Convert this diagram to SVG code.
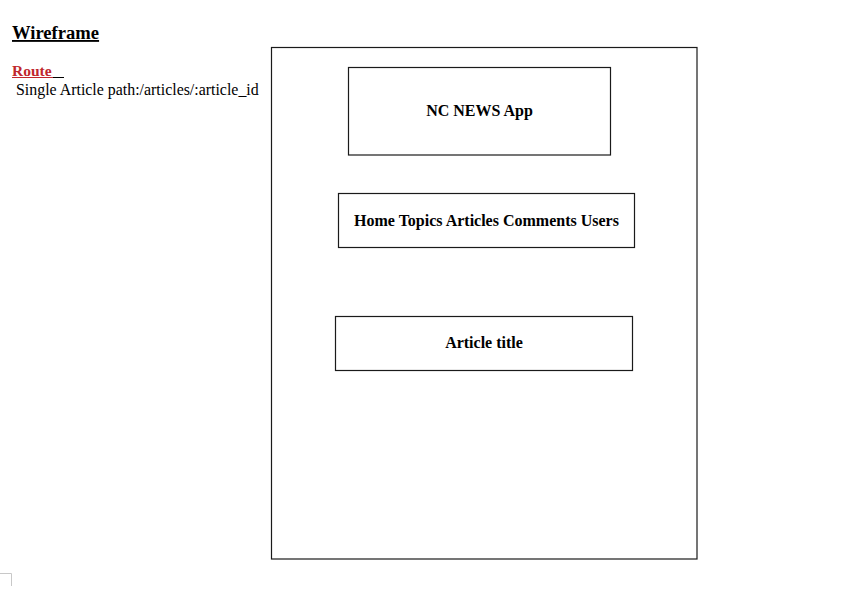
<svg xmlns="http://www.w3.org/2000/svg" width="853" height="600" viewBox="0 0 853 600">
<style>
.box{fill:#fff;stroke:#1a1a1a;stroke-width:1.2}
.lbl{font-family:"Liberation Serif","Times New Roman",serif;font-weight:bold;font-size:16px;fill:#000;text-anchor:middle}
.txt{font-family:"Liberation Serif","Times New Roman",serif;fill:#000}
</style>
<rect width="853" height="600" fill="#fff"/>
<g id="header">
<text class="txt" x="12" y="39" font-size="18.6" font-weight="bold" text-decoration="underline">Wireframe</text>
<text class="txt" x="12" y="76" font-size="15.5" font-weight="bold" style="fill:#c0272d">Route</text>
<line x1="12" y1="77.5" x2="64" y2="77.5" stroke="#c0272d" stroke-width="1"/>
<line x1="53" y1="77.5" x2="64" y2="77.5" stroke="#000" stroke-width="1"/>
<text class="txt" x="16" y="95" font-size="15.9">Single Article path:/articles/:article_id</text>
</g>
<g id="frame">
<rect class="box" x="271.5" y="47.5" width="425.5" height="511.5"/>
</g>
<g id="app-title">
<rect class="box" x="348.5" y="67.5" width="262" height="87.5"/>
<text class="lbl" x="479.5" y="116">NC NEWS App</text>
</g>
<g id="nav">
<rect class="box" x="338.5" y="193.5" width="296" height="54"/>
<text class="lbl" x="486.5" y="226">Home Topics Articles Comments Users</text>
</g>
<g id="article-title">
<rect class="box" x="335.5" y="316.5" width="297" height="54"/>
<text class="lbl" x="484" y="348">Article title</text>
</g>
<g id="connectors"></g>
<path d="M0 573.5H11.5V586" fill="none" stroke="#c8c8c8" stroke-width="1"/>
</svg>
